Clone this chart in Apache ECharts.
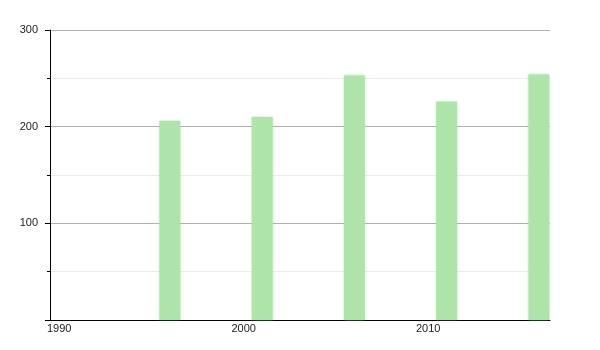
<!DOCTYPE html>
<html>
<head>
<meta charset="utf-8">
<script src="https://cdn.jsdelivr.net/npm/echarts@6/dist/echarts.min.js"></script>
<style>html,body{margin:0;padding:0;background:#fff}#c{width:600px;height:350px}</style>
</head>
<body>
<div id="c"></div>
<script>
var years = [1996, 2001, 2006, 2011, 2016];
var values = [206, 210, 253, 226, 254];
var xTickYears = [1990, 2000, 2010];
var yTicks = [100, 200, 300];

var chart = echarts.init(document.getElementById('c'), null, {renderer: 'canvas'});
chart.setOption({
  animation: false,
  grid: {left: 50, right: 50, top: 30, bottom: 30, containLabel: false},
  xAxis: {
    type: 'value',
    min: 1990,
    max: 2017.1,
    interval: 10,
    axisLine: {show: true, lineStyle: {color: '#000', width: 1}},
    axisTick: {show: false},
    splitLine: {show: false},
    axisLabel: {
      showMaxLabel: false,
      align: 'left',
      margin: 3,
      padding: [0, 0, 0, -3],
      color: '#222',
      fontFamily: 'Liberation Sans',
      fontSize: 11,
      formatter: function (v) { return xTickYears.indexOf(v) >= 0 ? String(v) : ''; }
    }
  },
  yAxis: {
    type: 'value',
    min: 0,
    max: 300,
    interval: 100,
    axisLine: {show: true, lineStyle: {color: '#000', width: 1}},
    axisTick: {show: true, length: 5, lineStyle: {color: '#000'}},
    minorTick: {show: true, splitNumber: 2, length: 3, lineStyle: {color: '#000'}},
    splitLine: {show: true, lineStyle: {color: '#b0b0b0', width: 1}},
    minorSplitLine: {show: true, lineStyle: {color: '#ececec', width: 1}},
    axisLabel: {
      margin: 12,
      color: '#222',
      fontFamily: 'Liberation Sans',
      fontSize: 11,
      formatter: function (v) { return yTicks.indexOf(v) >= 0 ? String(v) : ''; }
    }
  },
  series: [{
    type: 'bar',
    barWidth: 21,
    data: years.map(function (y, i) { return [y + 0.5, values[i]]; }),
    itemStyle: {
      color: '#aee4aa',
      shadowColor: 'rgba(150,220,150,0.6)',
      shadowBlur: 3
    }
  }]
});
</script>
</body>
</html>
